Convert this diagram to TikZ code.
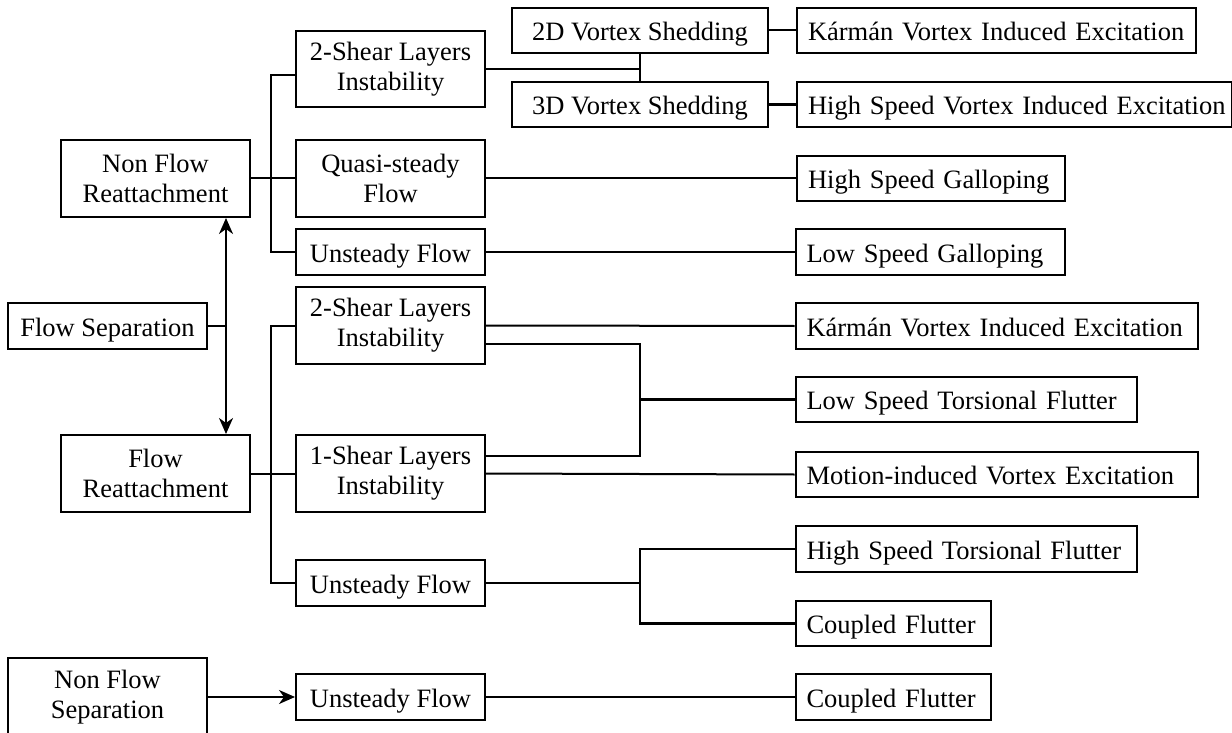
\documentclass[tikz,border=0pt]{standalone}
\usepackage{fontspec}
\setmainfont{Liberation Serif}
\usetikzlibrary{arrows.meta,calc}
\begin{document}
\begin{tikzpicture}[x=1pt,y=-1pt,
  every node/.style={font=\fontsize{26.5}{30}\selectfont},
  cbox/.style={draw, line width=2pt, minimum width=189pt, inner sep=0pt, align=center},
  one/.style={text height=24pt, text depth=4pt},
  rbox/.style={draw, line width=2pt, anchor=west, minimum height=45.5pt, inner xsep=11pt, inner ysep=0pt, text width=#1, align=left, one},
  conn/.style={line width=2pt},
  tconn/.style={line width=2.8pt},
  tip/.style={line width=2pt},
  >={Stealth[length=16pt,width=14pt,inset=5pt]},
]
\useasboundingbox (0,0) rectangle (1232,733);
% left column
\node[cbox, minimum height=77pt] (nfr) at (155.5,178.5) {Non Flow\\Reattachment};
\node[cbox, one, minimum width=199pt, minimum height=46pt] (fs) at (107.5,326) {Flow Separation};
\node[cbox, minimum height=77pt] (fr) at (155.5,473.5) {Flow\\Reattachment};
\node[cbox, minimum width=199pt, minimum height=78pt] (nfs) at (107.5,697) {Non Flow\\Separation};
% middle column
\node[cbox, minimum height=76pt] (s2a) at (390.5,69) {2-Shear Layers\\Instability};
\node[cbox, minimum height=77pt] (qs) at (390.5,178.5) {Quasi-steady\\Flow};
\node[cbox, one, minimum height=46pt] (ufa) at (390.5,252) {Unsteady Flow};
\node[cbox, minimum height=77pt] (s2b) at (390.5,325.5) {2-Shear Layers\\Instability};
\node[cbox, minimum height=77pt] (s1) at (390.5,473.5) {1-Shear Layers\\Instability};
\node[cbox, one, minimum height=46pt] (ufb) at (390.5,583) {Unsteady Flow};
\node[cbox, one, minimum height=46pt] (ufc) at (390.5,697) {Unsteady Flow};
% vortex column
\node[cbox, one, minimum width=256pt, minimum height=45pt] (v2d) at (640,30.5) {2D Vortex Shedding};
\node[cbox, one, minimum width=256pt, minimum height=45pt] (v3d) at (640,104.5) {3D Vortex Shedding};
% right column
\node[rbox=377pt] (k1) at (796,30.5) {\mbox{Kármán Vortex Induced Excitation}};
\node[rbox=413pt] (hsvie) at (796,104.5) {\mbox{High Speed Vortex Induced Excitation}};
\node[rbox=246pt] (hsg) at (796,178.5) {\mbox{High Speed Galloping}};
\node[rbox=247pt] (lsg) at (794.5,252) {\mbox{Low Speed Galloping}};
\node[rbox=380pt] (k2) at (794.5,326) {\mbox{Kármán Vortex Induced Excitation}};
\node[rbox=319pt] (lstf) at (794.5,399.5) {\mbox{Low Speed Torsional Flutter}};
\node[rbox=380pt] (mive) at (794.5,474.5) {\mbox{Motion-induced Vortex Excitation}};
\node[rbox=319pt] (hstf) at (794.5,549) {\mbox{High Speed Torsional Flutter}};
\node[rbox=173pt] (cf1) at (794.5,623.5) {\mbox{Coupled Flutter}};
\node[rbox=173pt] (cf2) at (794.5,697) {\mbox{Coupled Flutter}};
% coordinates
\coordinate (ja) at (640,69);
\coordinate (jb) at (640,399.5);
\coordinate (jc) at (640,583);
\coordinate (fsj) at (226,326);
% upper trunk
\draw[conn] ([yshift=-6pt]s2a.west) -| ([xshift=-24pt]ufa.west) -- (ufa.west);
\draw[conn] (nfr.east) -- (qs.west);
\draw[tconn] (s2a.east) -- (ja);
\draw[conn] (v2d.south) -- (v3d.north);
\draw[conn] (v2d.east) -- (k1.west);
\draw[tconn] (v3d.east) -- (hsvie.west);
\draw[conn] (qs.east) -- (hsg.west);
\draw[tconn] (ufa.east) -- (lsg.west);
% separation arrows
\draw[tip, <->] ([xshift=70.5pt]nfr.south) -- ([xshift=70.5pt]fr.north);
\draw[tconn] (fs.east) -- (fsj);
% lower trunk
\draw[conn] (s2b.west) -| ([xshift=-24pt]ufb.west) -- (ufb.west);
\draw[conn] (fr.east) -- (s1.west);
\draw[conn] (s2b.east) -- (k2.west);
\draw[tconn] ([yshift=-18.5pt]s2b.east) -| ([yshift=17.5pt]s1.east -| jb) -- ([yshift=17.5pt]s1.east);
\draw[tconn] (jb) -- (lstf.west);
\draw[conn] (s1.east) -- (mive.west);
\draw[conn] (ufb.east) -- (jc);
\draw[tconn] (hstf.west) -| (jc |- cf1.west) -- (cf1.west);
\draw[conn] (hstf.west) -- (jc |- hstf.west);
% bottom
\draw[tip, ->] (nfs.east) -- (ufc.west);
\draw[tconn] (ufc.east) -- (cf2.west);
\end{tikzpicture}
\end{document}
